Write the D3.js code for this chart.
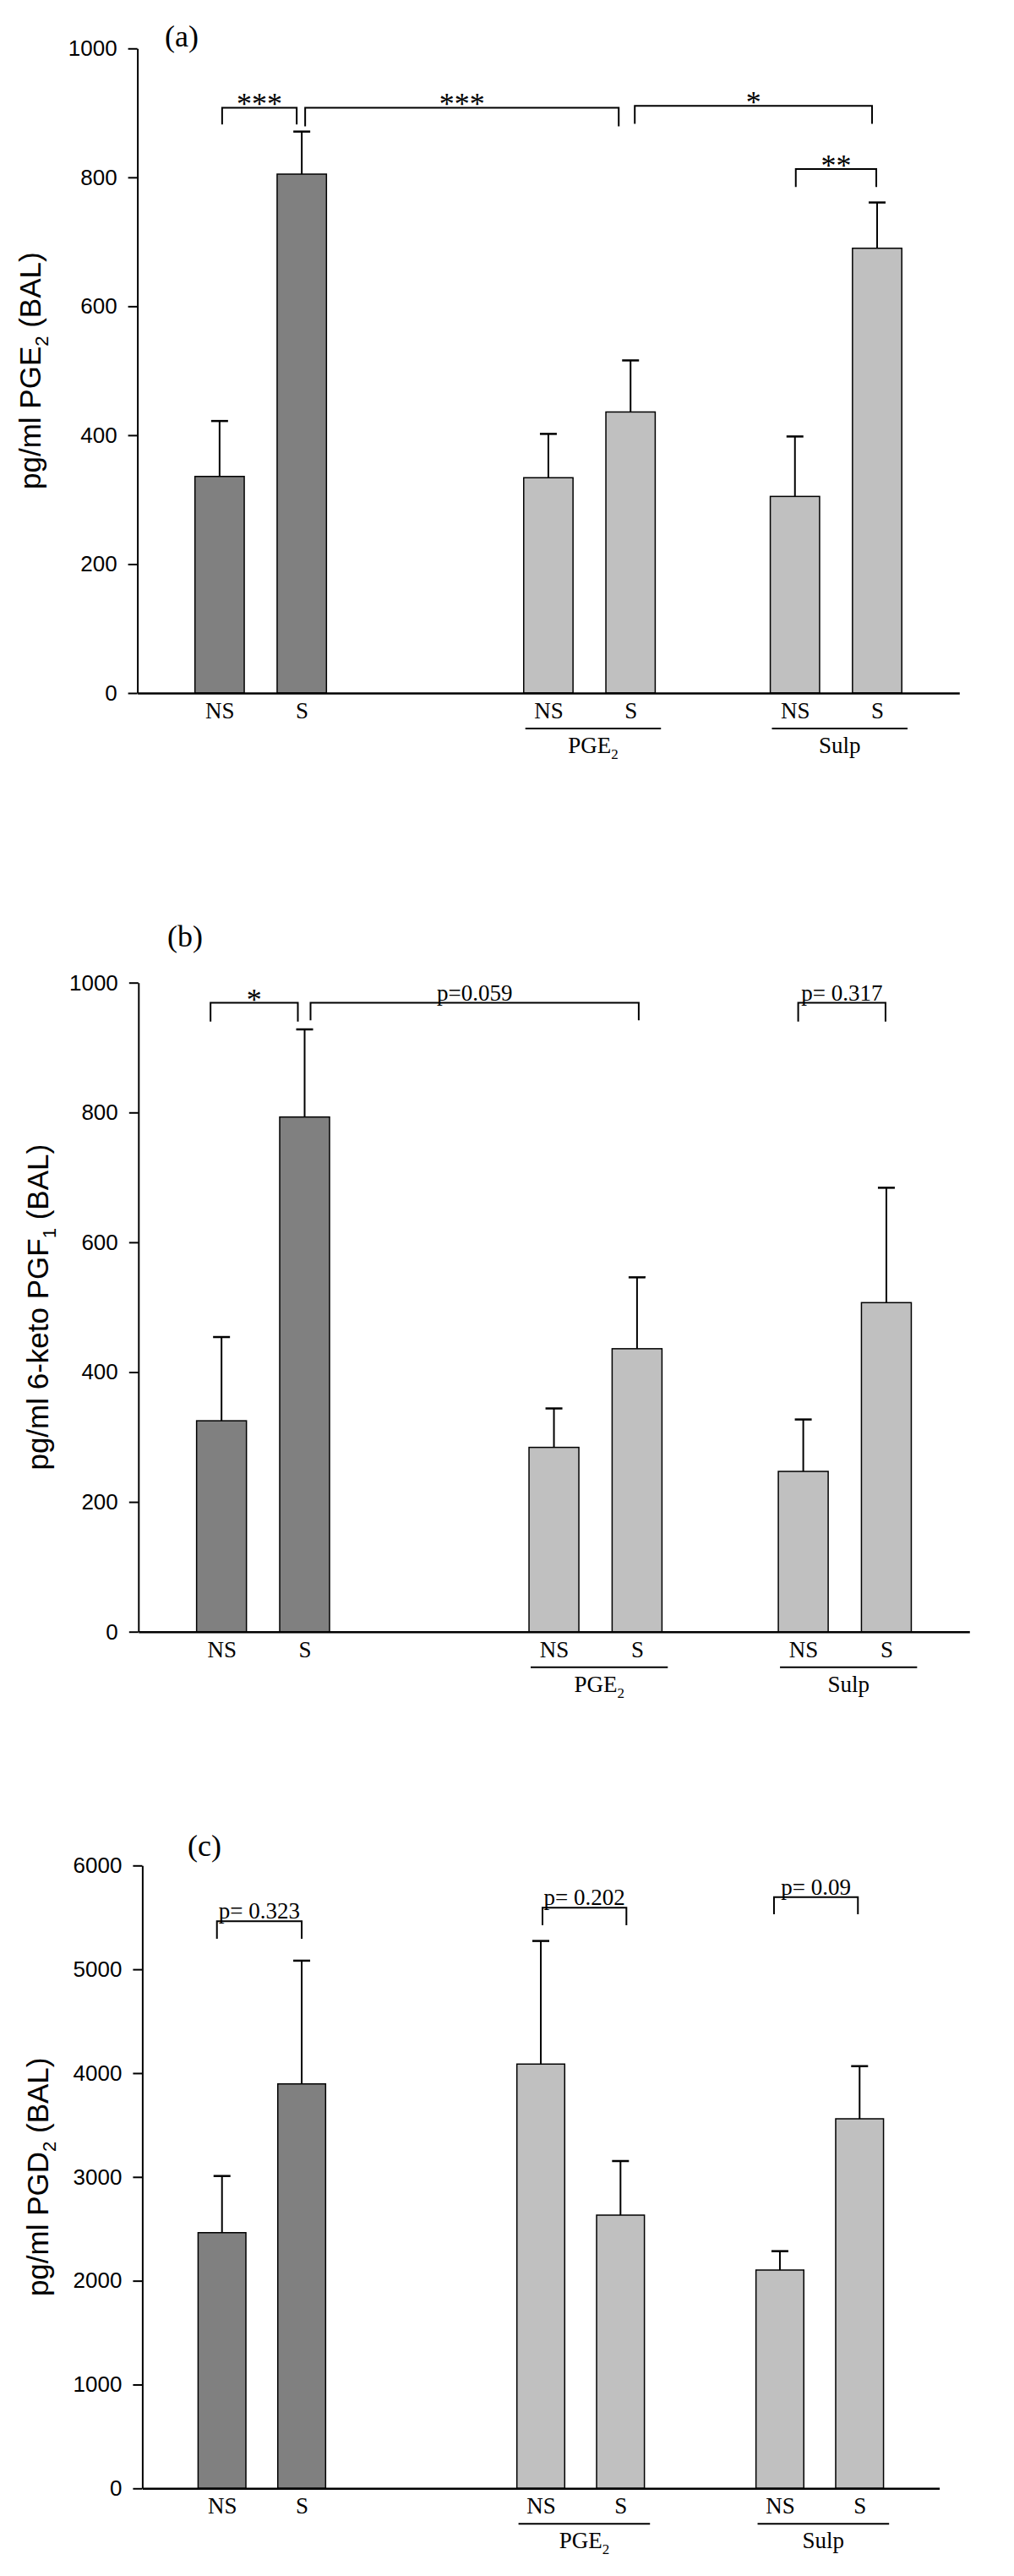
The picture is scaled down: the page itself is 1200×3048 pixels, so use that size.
<!DOCTYPE html>
<html>
<head>
<meta charset="utf-8">
<script src="https://cdn.jsdelivr.net/npm/d3@7"></script>
<style>
  body { margin: 0; background: #fff; }
  svg { display: block; }
</style>
</head>
<body>
<svg width="1200" height="3048"></svg>
<script>
// ---- data ----
var barKeys = ["C-NS", "C-S", "PGE2-NS", "PGE2-S", "Sulp-NS", "Sulp-S"];
var barLabels = ["NS", "S", "NS", "S", "NS", "S"];
var treated = [false, false, true, true, true, true];
// x slots: one empty slot at each end and gaps between the groups
var slotKeys = ["start", "C-NS", "C-S", "gap1", "gap2", "PGE2-NS", "PGE2-S", "gap3", "Sulp-NS", "Sulp-S", "end"];
var groupNames = ["PGE", "Sulp"];
var groupSubs = ["2", ""];
var groupMembers = [["PGE2-NS", "PGE2-S"], ["Sulp-NS", "Sulp-S"]];

var pge2Mean = [336, 805, 334, 436, 305, 690];
var pge2Sem  = [86, 66, 68, 80, 93, 71];
var ketoMean = [325, 793, 284, 436, 247, 507];
var ketoSem  = [129, 135, 60, 110, 80, 177];
var pgd2Mean = [2463, 3896, 4087, 2632, 2103, 3560];
var pgd2Sem  = [546, 1187, 1186, 521, 182, 507];

var ticks1000 = [0, 200, 400, 600, 800, 1000];
var ticks6000 = [0, 1000, 2000, 3000, 4000, 5000, 6000];

// significance brackets: bars joined, bracket level, leg end (data units), label
var bracketsA = [
  { from: "C-NS", to: "C-S", level: 908, leg: 882, label: "***" },
  { from: "C-S", to: "PGE2-S", level: 908, leg: 879, label: "***" },
  { from: "PGE2-S", to: "Sulp-S", level: 911, leg: 883, label: "*" },
  { from: "Sulp-NS", to: "Sulp-S", level: 813, leg: 785, label: "**" }
];
var bracketsB = [
  { from: "C-NS", to: "C-S", level: 969, leg: 940, label: "*" },
  { from: "C-S", to: "PGE2-S", level: 969, leg: 942, label: "p=0.059" },
  { from: "Sulp-NS", to: "Sulp-S", level: 969, leg: 940, label: "p= 0.317" }
];
var bracketsC = [
  { from: "C-NS", to: "C-S", level: 5463, leg: 5294, label: "p= 0.323" },
  { from: "PGE2-NS", to: "PGE2-S", level: 5593, leg: 5424, label: "p= 0.202" },
  { from: "Sulp-NS", to: "Sulp-S", level: 5696, leg: 5530, label: "p= 0.09" }
];

// ---- layout ----
var sans = "'Liberation Sans', Arial, sans-serif";
var serif = "'Liberation Serif', 'Times New Roman', serif";
var svg = d3.select("svg");

var panels = [
  { letter: "(a)", letterX: 195, letterY: 55, left: 162.6, right: 1135.3, top: 57.3, bottom: 820,
    max: 1000, ticks: ticks1000, mean: pge2Mean, sem: pge2Sem, brackets: bracketsA,
    nudge: [[3, -6], [4, -14], [5, -6], [1, -1]],
    title: ["pg/ml PGE", "2", " (BAL)"], titleX: 48 },
  { letter: "(b)", letterX: 198, letterY: 1120, left: 163.8, right: 1147.3, top: 1162.7, bottom: 1930.7,
    max: 1000, ticks: ticks1000, mean: ketoMean, sem: ketoSem, brackets: bracketsB,
    nudge: [[-13, -8], [7, 2], [-6, -1]],
    title: ["pg/ml 6-keto PGF", "1", " (BAL)"], titleX: 57 },
  { letter: "(c)", letterX: 222, letterY: 2196, left: 168.4, right: 1111.6, top: 2207.3, bottom: 2944.3,
    max: 6000, ticks: ticks6000, mean: pgd2Mean, sem: pgd2Sem, brackets: bracketsC,
    nudge: [[-6, 0], [2, 7], [-7, -2]],
    title: ["pg/ml PGD", "2", " (BAL)"], titleX: 57 }
];

panels.forEach(drawPanel);

function drawPanel(p) {
  var y = d3.scaleLinear().domain([0, p.max]).range([p.bottom, p.top]);
  var x = d3.scalePoint().domain(slotKeys).range([p.left, p.right]);
  var step = x.step(), bw = step * 0.6, cap = 10;
  var g = svg.append("g");

  // error bars (upper only)
  var err = g.selectAll(".err").data(barKeys).enter().append("g").attr("class", "err");
  err.append("line")
     .attr("x1", function(d) { return x(d); })
     .attr("x2", function(d) { return x(d); })
     .attr("y1", function(d, i) { return y(p.mean[i]); })
     .attr("y2", function(d, i) { return y(p.mean[i] + p.sem[i]); })
     .attr("stroke", "#000").attr("stroke-width", 2);
  err.append("line")
     .attr("x1", function(d) { return x(d) - cap; })
     .attr("x2", function(d) { return x(d) + cap; })
     .attr("y1", function(d, i) { return y(p.mean[i] + p.sem[i]); })
     .attr("y2", function(d, i) { return y(p.mean[i] + p.sem[i]); })
     .attr("stroke", "#000").attr("stroke-width", 2.5);

  // bars
  g.selectAll(".bar").data(barKeys).enter().append("rect")
   .attr("class", "bar")
   .attr("x", function(d) { return x(d) - bw / 2; })
   .attr("y", function(d, i) { return y(p.mean[i]); })
   .attr("width", bw)
   .attr("height", function(d, i) { return y(0) - y(p.mean[i]); })
   .attr("fill", function(d, i) { return treated[i] ? "#c0c0c0" : "#808080"; })
   .attr("stroke", "#000").attr("stroke-width", 1.5);

  // y axis
  var ya = g.append("g")
            .attr("transform", "translate(" + p.left + ",0)")
            .call(d3.axisLeft(y).tickValues(p.ticks).tickSize(11).tickSizeOuter(0)
                    .tickPadding(13).tickFormat(d3.format("d")));
  ya.attr("font-family", sans).attr("font-size", 26);
  ya.select(".domain").attr("stroke-width", 2);
  ya.selectAll(".tick line").attr("stroke-width", 2);
  ya.selectAll(".tick text").attr("fill", "#000");

  // x axis with NS / S labels
  var xa = g.append("g")
            .attr("transform", "translate(0," + p.bottom + ")")
            .call(d3.axisBottom(x).tickValues(barKeys).tickSize(0).tickSizeOuter(0)
                    .tickFormat(function(d) { return barLabels[barKeys.indexOf(d)]; }));
  xa.attr("font-family", serif).attr("font-size", 27);
  xa.select(".domain").attr("stroke-width", 2.5);
  xa.selectAll(".tick text").attr("y", 30).attr("dy", null).attr("fill", "#000");

  // group underline and name
  groupMembers.forEach(function(m, i) {
    var x0 = x(m[0]) - 0.28 * step, x1 = x(m[1]) + 0.37 * step;
    g.append("line")
     .attr("x1", x0).attr("x2", x1)
     .attr("y1", p.bottom + 42).attr("y2", p.bottom + 42)
     .attr("stroke", "#000").attr("stroke-width", 2);
    var t = g.append("text")
             .attr("x", (x0 + x1) / 2).attr("y", p.bottom + 71)
             .attr("text-anchor", "middle")
             .attr("font-family", serif).attr("font-size", 27)
             .text(groupNames[i]);
    if (groupSubs[i]) {
      t.append("tspan").attr("dy", 7).attr("font-size", 17).text(groupSubs[i]);
    }
  });

  // significance brackets
  p.brackets.forEach(function(b, i) {
    var xl = x(b.from) + p.nudge[i][0], xr = x(b.to) + p.nudge[i][1];
    var yl = y(b.level), yg = y(b.leg);
    g.append("path")
     .attr("d", "M" + xl + "," + yg + "V" + yl + "H" + xr + "V" + yg)
     .attr("fill", "none").attr("stroke", "#000").attr("stroke-width", 2);
    var star = b.label.charAt(0) === "*";
    g.append("text")
     .attr("x", (xl + xr) / 2)
     .attr("y", star ? yl + 8 : yl - 3)
     .attr("text-anchor", "middle")
     .attr("font-family", serif)
     .attr("font-size", star ? 36 : 27)
     .text(b.label);
  });

  // y title
  var cy = (p.top + p.bottom) / 2;
  var tt = g.append("text")
            .attr("transform", "translate(" + p.titleX + "," + cy + ") rotate(-90)")
            .attr("text-anchor", "middle")
            .attr("font-family", sans).attr("font-size", 35);
  tt.append("tspan").text(p.title[0]);
  tt.append("tspan").attr("dy", 9).attr("font-size", 22).text(p.title[1]);
  tt.append("tspan").attr("dy", -9).text(p.title[2]);

  // panel letter
  g.append("text")
   .attr("x", p.letterX).attr("y", p.letterY)
   .attr("font-family", serif).attr("font-size", 36)
   .text(p.letter);
}
</script>
</body>
</html>
